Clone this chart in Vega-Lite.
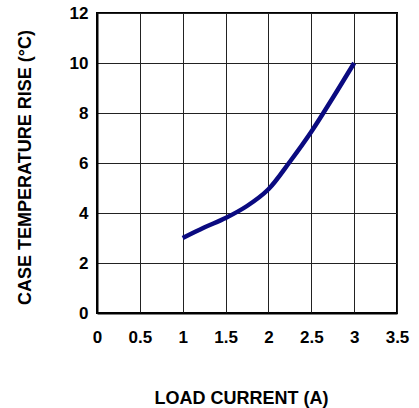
{
  "$schema": "https://vega.github.io/schema/vega-lite/v6.json",
  "autosize": {"type": "none"},
  "width": 300,
  "height": 300,
  "padding": {"left": 97, "top": 13, "right": 22, "bottom": 95},
  "background": "white",
  "config": {
    "view": {"stroke": "black", "strokeWidth": 2},
    "font": "Liberation Sans"
  },
  "data": {
    "values": [
      {"current": 1.0, "rise": 3.0},
      {"current": 1.25, "rise": 3.42},
      {"current": 1.5, "rise": 3.8},
      {"current": 1.75, "rise": 4.28},
      {"current": 2.0, "rise": 4.95},
      {"current": 2.25, "rise": 6.05},
      {"current": 2.5, "rise": 7.25},
      {"current": 2.75, "rise": 8.6},
      {"current": 3.0, "rise": 10.0}
    ]
  },
  "mark": {"type": "line", "color": "#0a0a80", "strokeWidth": 4.5, "interpolate": "catmull-rom", "strokeCap": "butt"},
  "encoding": {
    "x": {
      "field": "current", "type": "quantitative",
      "scale": {"domain": [0, 3.5], "nice": false, "zero": false},
      "axis": {
        "title": "LOAD CURRENT (A)",
        "values": [0, 0.5, 1, 1.5, 2, 2.5, 3, 3.5],
        "format": "~g",
        "ticks": false, "tickSize": 0,
        "domain": true, "domainColor": "black", "domainWidth": 2,
        "grid": true, "gridColor": "#222", "gridWidth": 1, "gridOpacity": 1,
        "labelFont": "Liberation Sans", "labelFontSize": 17, "labelFontWeight": "bold", "labelColor": "black",
        "labelPadding": 16, "labelFlush": false,
        "titleFont": "Liberation Sans", "titleFontSize": 18, "titleFontWeight": "bold", "titleColor": "black",
        "titleX": 144, "titleY": 85, "titleBaseline": "middle", "titleAlign": "center"
      }
    },
    "y": {
      "field": "rise", "type": "quantitative",
      "scale": {"domain": [0, 12], "nice": false, "zero": false},
      "axis": {
        "title": "CASE TEMPERATURE RISE (°C)",
        "values": [0, 2, 4, 6, 8, 10, 12],
        "ticks": false, "tickSize": 0,
        "domain": true, "domainColor": "black", "domainWidth": 2,
        "grid": true, "gridColor": "#222", "gridWidth": 1, "gridOpacity": 1,
        "labelFont": "Liberation Sans", "labelFontSize": 17, "labelFontWeight": "bold", "labelColor": "black",
        "labelPadding": 9, "labelFlush": false,
        "titleFont": "Liberation Sans", "titleFontSize": 18, "titleFontWeight": "bold", "titleColor": "black",
        "titleX": -72, "titleY": 154, "titleBaseline": "middle", "titleAlign": "center", "titleAngle": -90
      }
    }
  }
}
